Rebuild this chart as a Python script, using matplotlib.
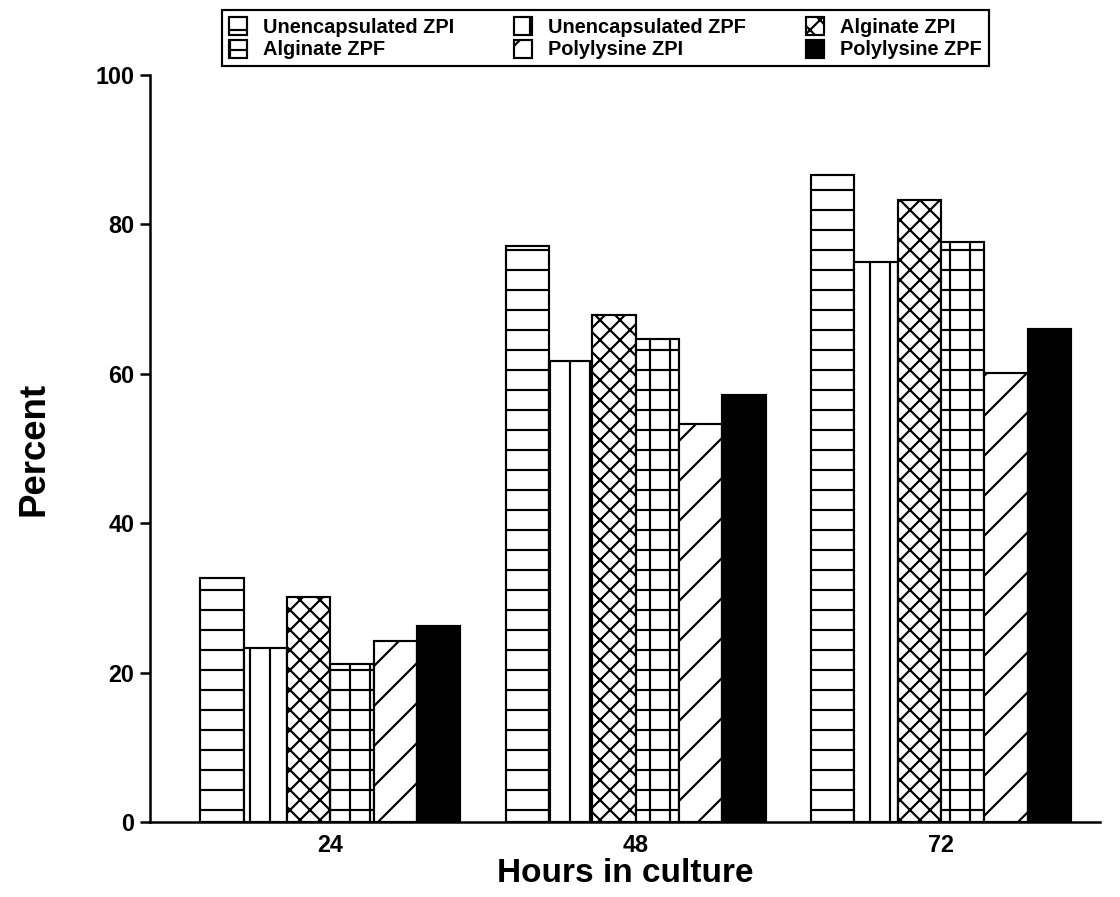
import numpy as np
import matplotlib
matplotlib.use("Agg")
import matplotlib.pyplot as plt

hours = ["24", "48", "72"]
series_names = ["Unencapsulated ZPI", "Unencapsulated ZPF", "Alginate ZPI",
                "Alginate ZPF", "Polylysine ZPI", "Polylysine ZPF"]
unencap_zpi = [32.7, 77.1, 86.6]
unencap_zpf = [23.3, 61.7, 75.0]
alginate_zpi = [30.1, 67.9, 83.3]
alginate_zpf = [21.2, 64.7, 77.6]
polylysine_zpi = [24.2, 53.3, 60.1]
polylysine_zpf = [26.2, 57.2, 66.0]

series = [unencap_zpi, unencap_zpf, alginate_zpi,
          alginate_zpf, polylysine_zpi, polylysine_zpf]
hatches = ["-", "|", "xx", "+", "/", None]
faces = ["white", "white", "white", "white", "white", "black"]

plt.rcParams["font.family"] = ["Liberation Sans", "DejaVu Sans"]
plt.rcParams["font.weight"] = "bold"
plt.rcParams["hatch.linewidth"] = 1.3
plt.rcParams["hatch.color"] = "black"

dpi = 120
fig = plt.figure(figsize=(1120 / dpi, 897 / dpi), dpi=dpi)
ax = fig.add_axes([0.134, 0.0836, 0.848, 0.8328])

x = np.arange(len(hours))
w = 0.142
bars = []
for i, vals in enumerate(series):
  b = ax.bar(x + (i - 2.5) * w, vals, w, facecolor=faces[i], edgecolor="black",
             linewidth=1.3, hatch=hatches[i], label=series_names[i])
  bars.append(b)

ax.set_xlim(-0.59, 2.52)
ax.set_ylim(0, 100)
ax.set_yticks([0, 20, 40, 60, 80, 100])
ax.set_xticks(x)
ax.set_xticklabels(hours)
ax.tick_params(axis="y", labelsize=14, width=1.5, length=6, direction="out")
ax.tick_params(axis="x", labelsize=14, length=0, pad=7)
for s in ["top", "right"]:
  ax.spines[s].set_visible(False)
for s in ["left", "bottom"]:
  ax.spines[s].set_linewidth(1.5)

ax.set_ylabel("Percent", fontsize=22, fontweight="bold", labelpad=26)
ax.set_xlabel("Hours in culture", fontsize=20, fontweight="bold", labelpad=1)

order = [0, 3, 1, 4, 2, 5]
leg = fig.legend([bars[i] for i in order], [series_names[i] for i in order],
                 loc="upper left", bbox_to_anchor=(0.198, 0.989), ncol=3,
                 fancybox=False, edgecolor="black", framealpha=1,
                 prop={"weight": "bold", "size": 12},
                 handlelength=0.9, handleheight=1.0, handletextpad=0.8,
                 columnspacing=3.0, borderpad=0.35, labelspacing=0.15,
                 borderaxespad=0)
leg.get_frame().set_linewidth(1.3)

fig.savefig("out.png", dpi=dpi)
